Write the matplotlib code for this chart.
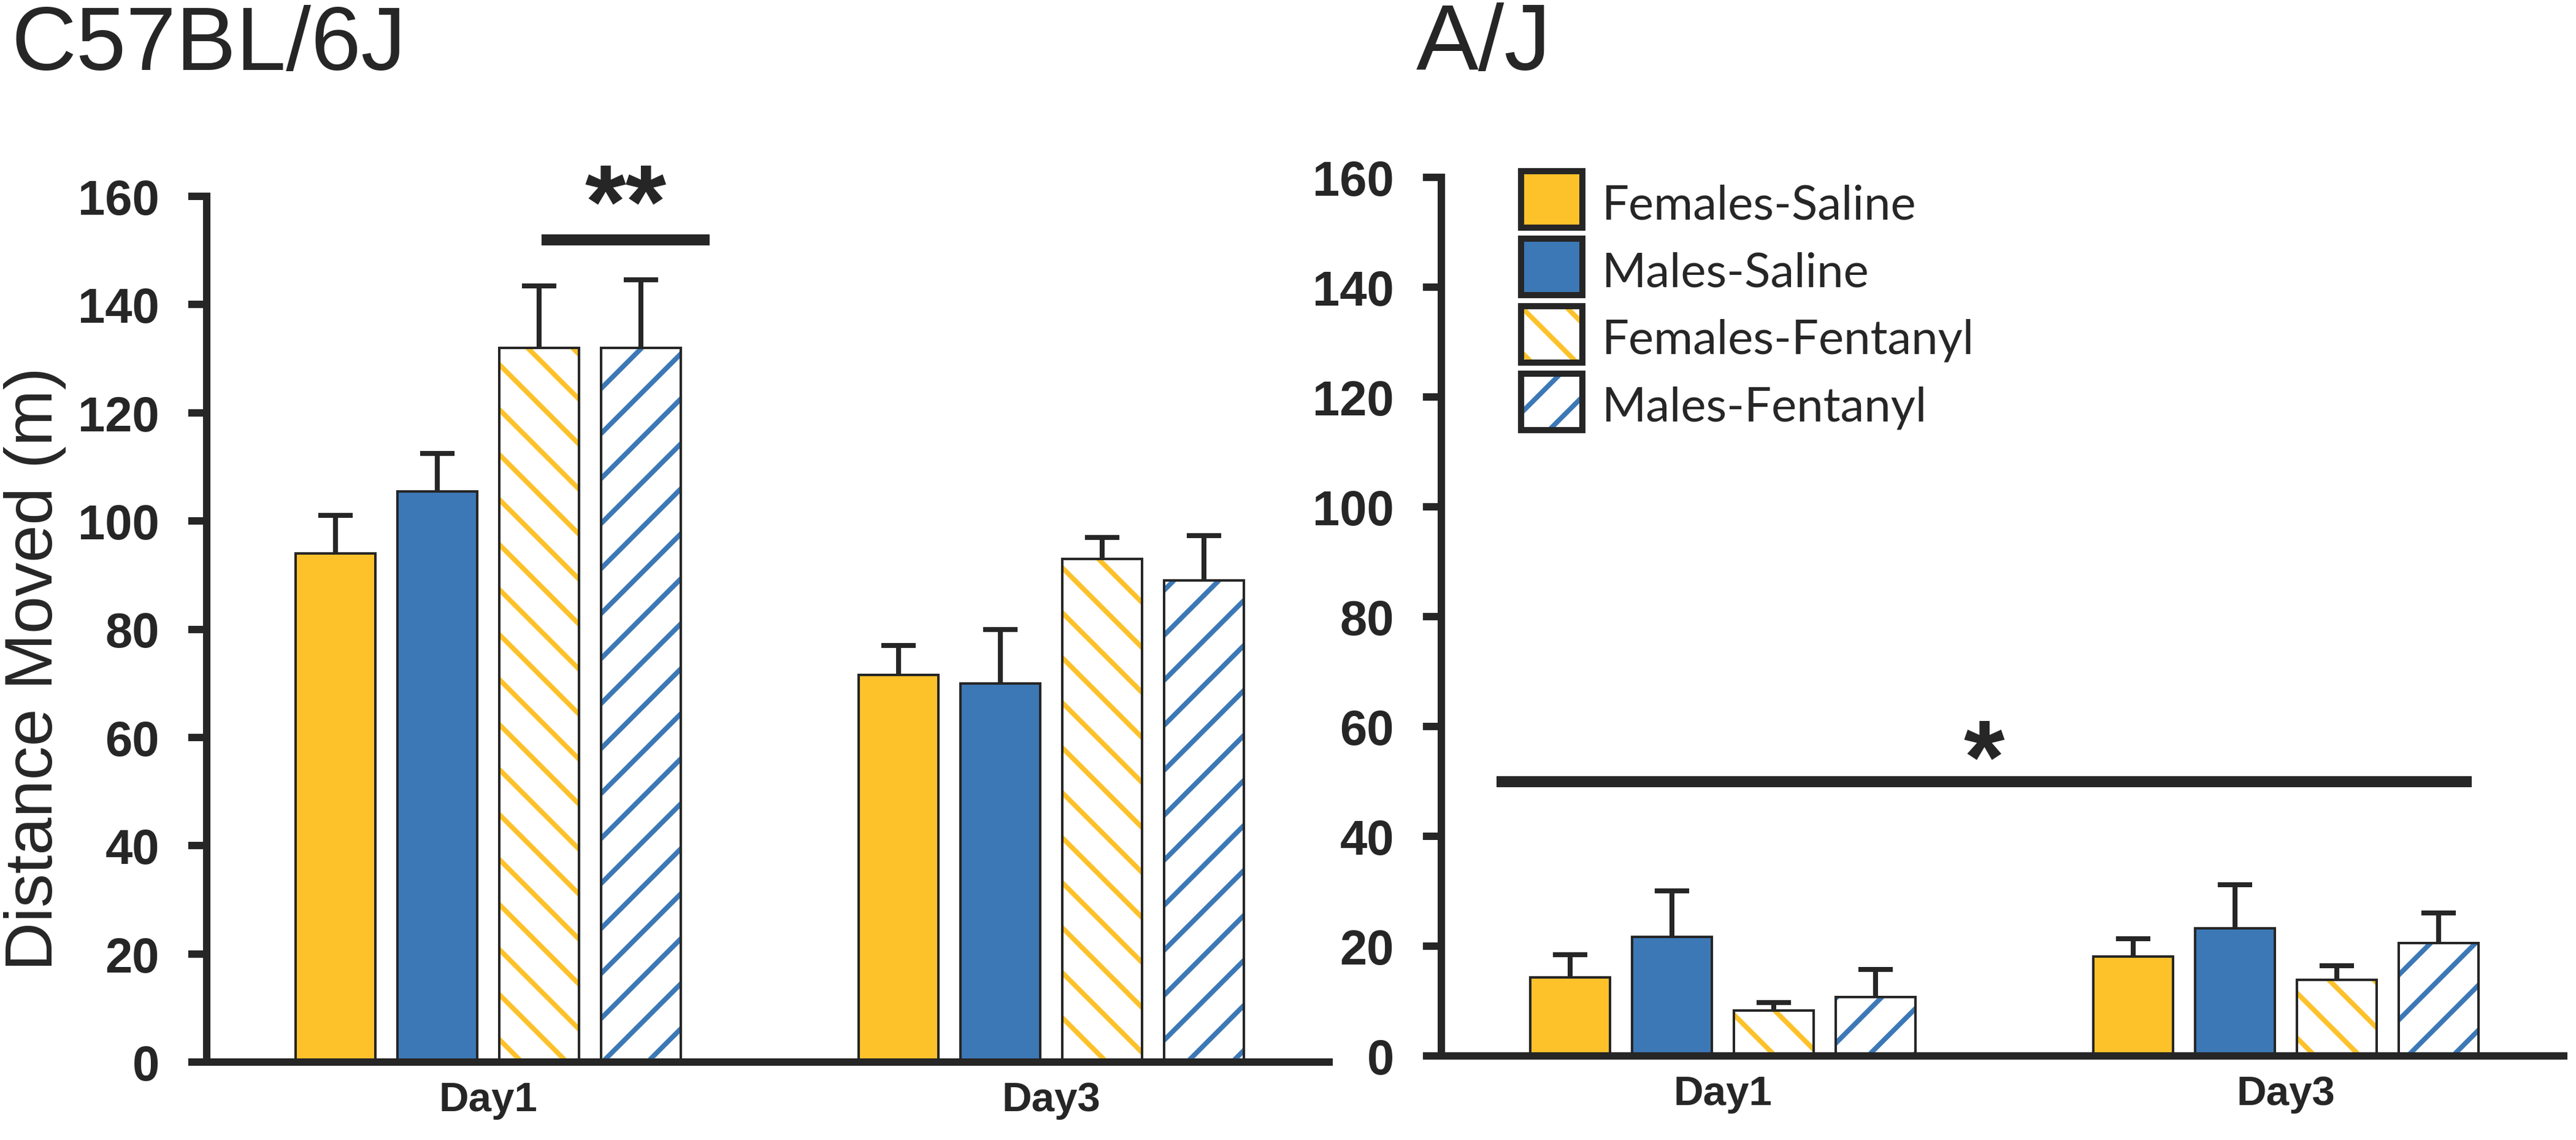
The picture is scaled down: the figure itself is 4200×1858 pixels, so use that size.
import numpy as np
import matplotlib
matplotlib.use('Agg')
import matplotlib.pyplot as plt
from matplotlib.patches import Rectangle

# ---------------- data ----------------
days = ['Day1', 'Day3']
series = ['Females-Saline', 'Males-Saline', 'Females-Fentanyl', 'Males-Fentanyl']
yticks = [0, 20, 40, 60, 80, 100, 120, 140, 160]

# C57BL/6J
b6_fem_saline = [94.0, 71.5]
b6_male_saline = [105.5, 70.0]
b6_fem_fent = [132.0, 93.0]
b6_male_fent = [132.0, 89.0]
b6_fem_saline_err = [7.0, 5.5]
b6_male_saline_err = [7.0, 10.0]
b6_fem_fent_err = [11.5, 4.0]
b6_male_fent_err = [12.6, 8.3]

# A/J
aj_fem_saline = [14.3, 18.1]
aj_male_saline = [21.7, 23.2]
aj_fem_fent = [8.3, 13.8]
aj_male_fent = [10.7, 20.6]
aj_fem_saline_err = [4.1, 3.2]
aj_male_saline_err = [8.4, 8.0]
aj_fem_fent_err = [1.4, 2.6]
aj_male_fent_err = [5.0, 5.4]

# significance annotations
b6_sig_level = 152
aj_sig_level = 50

# ---------------- style ----------------
YEL = '#FDC12A'
BLU = '#3C78B6'
DARK = '#262626'
colors = [YEL, BLU, YEL, BLU]
hatches = [None, None, '\\', '/']

W, H = 4200, 1859
DPI = 220
PT = 72.0 / DPI  # points per pixel

plt.rcParams['hatch.linewidth'] = 8 * PT
plt.rcParams['font.family'] = ['Liberation Sans', 'DejaVu Sans']

fig = plt.figure(figsize=(W / DPI, H / DPI), dpi=DPI)
fig.patch.set_facecolor('white')


def px_rect(x0, y_top, x1, y_bottom):
    return [x0 / W, 1 - y_bottom / H, (x1 - x0) / W, (y_bottom - y_top) / H]


ax1 = fig.add_axes(px_rect(337, 321, 2173, 1732))
ax2 = fig.add_axes(px_rect(2350, 290, 4186, 1722))

pitch = 0.181
width = 0.142


def draw_panel(ax, means, errs):
    x = np.arange(len(days))
    for i, (m, e) in enumerate(zip(means, errs)):
        xi = x + (i - 1.5) * pitch
        m = np.asarray(m, float)
        e = np.asarray(e, float)
        if hatches[i] is None:
            ax.bar(xi, m, width=width, color=colors[i], edgecolor=DARK,
                   linewidth=4 * PT, zorder=2)
        else:
            ax.bar(xi, m, width=width, color='white', edgecolor=colors[i],
                   hatch=hatches[i], linewidth=0, zorder=2)
            ax.bar(xi, m, width=width, fill=False, edgecolor=DARK,
                   linewidth=4 * PT, zorder=3)
        eb = ax.errorbar(xi, m, yerr=[np.zeros_like(e), e], fmt='none',
                         ecolor=DARK, elinewidth=8 * PT, capsize=28 * PT,
                         capthick=8 * PT, zorder=4)
        for cl in eb[1]:
            if np.allclose(cl.get_ydata(), m):
                cl.set_visible(False)

    ax.set_xlim(-0.5, 1.5)
    ax.set_ylim(0, 160)
    ax.set_yticks(yticks)
    ax.set_xticks(x)
    ax.set_xticklabels(days, fontsize=22, fontweight='bold', color=DARK)
    for lab in ax.get_yticklabels():
        lab.set_fontweight('bold')
        lab.set_fontsize(26)
        lab.set_color(DARK)
    ax.tick_params(axis='x', length=0, pad=10)
    ax.tick_params(axis='y', length=30 * PT, width=12 * PT, color=DARK,
                   pad=47 * PT, direction='out')
    for s in ['top', 'right']:
        ax.spines[s].set_visible(False)
    for s in ['left', 'bottom']:
        ax.spines[s].set_linewidth(12 * PT)
        ax.spines[s].set_color(DARK)
    ax.spines['bottom'].set_capstyle('butt')
    ax.set_facecolor('none')


draw_panel(ax1,
           [b6_fem_saline, b6_male_saline, b6_fem_fent, b6_male_fent],
           [b6_fem_saline_err, b6_male_saline_err, b6_fem_fent_err, b6_male_fent_err])
draw_panel(ax2,
           [aj_fem_saline, aj_male_saline, aj_fem_fent, aj_male_fent],
           [aj_fem_saline_err, aj_male_saline_err, aj_fem_fent_err, aj_male_fent_err])

# significance bars
ax1.plot([0.095, 0.393], [b6_sig_level, b6_sig_level], color=DARK,
         linewidth=18 * PT, solid_capstyle='butt', clip_on=False, zorder=5)
ax1.text(0.244, 152.5, '**', ha='center', va='baseline', fontsize=56,
         fontweight='bold', color=DARK, clip_on=False)
ax2.plot([-0.402, 1.330], [aj_sig_level, aj_sig_level], color=DARK,
         linewidth=18 * PT, solid_capstyle='butt', clip_on=False, zorder=5)
ax2.text(0.464, 48.0, '*', ha='center', va='baseline', fontsize=56,
         fontweight='bold', color=DARK, clip_on=False)

# titles
fig.text(18 / W, 1 - 114 / H, 'C57BL/6J', fontsize=48, color=DARK,
         ha='left', va='baseline')
fig.text(2309 / W, 1 - 114 / H, 'A/J', fontsize=50, color=DARK,
         ha='left', va='baseline')

# y label
fig.text(57 / W, 1 - 1090 / H, 'Distance Moved (m)', fontsize=36, color=DARK,
         rotation=90, ha='center', va='center')

# legend (manual)
leg_x, leg_w, leg_h = 2480, 100, 92
row_centers = [326, 436, 546, 656]
for i, (lab, c) in enumerate(zip(series, colors)):
    cy = row_centers[i]
    rect = [leg_x / W, 1 - (cy + leg_h / 2) / H, leg_w / W, leg_h / H]
    if hatches[i] is None:
        fig.add_artist(Rectangle(rect[:2], rect[2], rect[3], transform=fig.transFigure,
                                 facecolor=c, edgecolor=DARK, linewidth=10 * PT))
    else:
        fig.add_artist(Rectangle(rect[:2], rect[2], rect[3], transform=fig.transFigure,
                                 facecolor='white', edgecolor=c, hatch=hatches[i],
                                 linewidth=0))
        fig.add_artist(Rectangle(rect[:2], rect[2], rect[3], transform=fig.transFigure,
                                 fill=False, edgecolor=DARK, linewidth=10 * PT))
    fig.text(2612 / W, 1 - (cy + 31) / H, lab, fontsize=25.5, family=['Lato', 'DejaVu Sans'],
             color=DARK, ha='left', va='baseline')

fig.savefig('out.png', dpi=DPI, facecolor='white')
